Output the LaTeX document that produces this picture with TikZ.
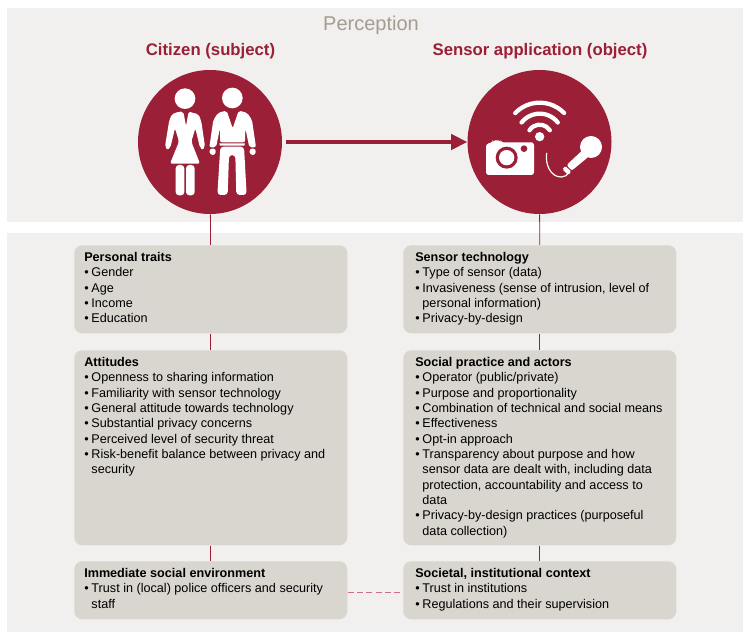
\documentclass[tikz,border=0pt]{standalone}
\usepackage{fontspec}
\setmainfont{Liberation Sans}
\usetikzlibrary{arrows.meta}
\definecolor{wine}{HTML}{9B1F36}
\definecolor{panelc}{HTML}{F2F0EE}
\definecolor{boxc}{HTML}{D9D5CF}
\definecolor{greyt}{HTML}{A39C90}
\definecolor{pinkl}{HTML}{CC6E85}
\newcommand{\bul}[1]{\par\prevdepth=2.5pt\noindent\makebox[5.4pt][l]{•}\parbox[t]{190pt}{\raggedright #1\rule[-2.5pt]{0pt}{2.5pt}}}
\newcommand{\hd}[1]{\noindent\textbf{#1}\rule[-2.5pt]{0pt}{2.5pt}}
\newcommand{\brk}{\newline}
\tikzset{
  panel/.style={fill=panelc,draw=none,minimum width=552pt,anchor=north west,inner sep=0pt},
  cardbox/.style={fill=boxc,draw=none,rounded corners=6pt,minimum width=204.75pt,anchor=north west,inner sep=0pt},
  cardtext/.style={anchor=north west,inner sep=0pt,text width=198pt,font=\fontsize{9.47}{11.5}\selectfont,align=none},
  disc/.style={circle,fill=wine,draw=none,minimum size=108pt,inner sep=0pt},
  vlink/.style={wine,line width=0.6pt},
  title/.style={font=\fontsize{12.55}{16}\selectfont\bfseries,text=wine,inner sep=0pt},
  icon/.style={fill=white,draw=none}
}
\begin{document}
\begin{tikzpicture}[x=0.75pt,y=-0.75pt]
\useasboundingbox (0,0) rectangle (750,641);
\node[panel,minimum height=160.5pt] (top) at (7,8) {};
\node[panel,minimum height=299.25pt] (low) at (7,233) {};
\node[font=\fontsize{15}{18}\selectfont,text=greyt,inner sep=0pt] (per) at (371,25) {Perception};
\node[title] (tc) at (210.5,51.5) {Citizen (subject)};
\node[title] (ts) at (540,51.5) {Sensor application (object)};
\node[disc] (cit) at (210,142) {};
\node[disc] (sen) at (539.5,142) {};
\node[cardbox,minimum height=66pt] (b1) at (74,245) {};
\node[cardbox,minimum height=146.25pt] (b2) at (74,350) {};
\node[cardbox,minimum height=43.5pt] (b3) at (74,561) {};
\node[cardbox,minimum height=66pt] (b4) at (403,245) {};
\node[cardbox,minimum height=146.25pt] (b5) at (403,350) {};
\node[cardbox,minimum height=43.5pt] (b6) at (403,561) {};
\draw[vlink] (cit) -- (b1);
\draw[vlink] (b1) -- (b2);
\draw[vlink] (b2) -- (b3);
\draw[vlink] (sen) -- (b4);
\draw[vlink] (b4) -- (b5);
\draw[vlink] (b5) -- (b6);
\draw[pinkl,line width=1pt,dash pattern=on 4.5pt off 2.5pt] ([yshift=-1.5pt]b3.east) -- ([yshift=-1.5pt]b6.west);
\draw[wine,line width=2.4pt,shorten <=3pt,-{Triangle[length=12pt,width=11.5pt]}] (cit.east) -- (sen.west);
\node[cardtext] (t1) at (84,252) {\hd{Personal traits}\bul{Gender}\bul{Age}\bul{Income}\bul{Education}};
\node[cardtext] (t2) at (84,357) {\hd{Attitudes}\bul{Openness to sharing information}\bul{Familiarity with sensor technology}\bul{General attitude towards technology}\bul{Substantial privacy concerns}\bul{Perceived level of security threat}\bul{Risk-benefit balance between privacy and\brk security}};
\node[cardtext] (t3) at (84,568) {\hd{Immediate social environment}\bul{Trust in (local) police officers and security\brk staff}};
\node[cardtext] (t4) at (415,252) {\hd{Sensor technology}\bul{Type of sensor (data)}\bul{Invasiveness (sense of intrusion, level of\brk personal information)}\bul{Privacy-by-design}};
\node[cardtext] (t5) at (415,357) {\hd{Social practice and actors}\bul{Operator (public/private)}\bul{Purpose and proportionality}\bul{Combination of technical and social means}\bul{Effectiveness}\bul{Opt-in approach}\bul{Transparency about purpose and how\brk sensor data are dealt with, including data\brk protection, accountability and access to\brk data}\bul{Privacy-by-design practices (purposeful\brk data collection)}};
\node[cardtext] (t6) at (415,568) {\hd{Societal, institutional context}\bul{Trust in institutions}\bul{Regulations and their supervision}};
% people icon
\begin{scope}[shift={(120,60)},x=0.25pt,y=-0.25pt]
\fill[icon] (195,116) circle (31);
\fill[icon] (337,114) circle (31);
% woman
\fill[icon,rounded corners=1.5pt] (176,155) -- (155,163) -- (147,185) -- (135,260) -- (142,270) -- (151,263) -- (165,205) -- (177,245) -- (150,311) -- (240,311) -- (214,245) -- (226,205) -- (240,263) -- (248,270) -- (255,260) -- (244,185) -- (236,163) -- (206,155) -- (198,198) -- (190,155) -- cycle;
\fill[icon,rounded corners=2.5pt] (167,315) -- (193,315) -- (193,406) -- (167,406) -- cycle;
\fill[icon,rounded corners=2.5pt] (198,315) -- (224,315) -- (224,406) -- (198,406) -- cycle;
% man
\fill[icon,rounded corners=1.5pt] (320,152) -- (295,158) -- (280,180) -- (268,262) -- (288,262) -- (300,205) -- (300,247) -- (375,247) -- (376,205) -- (388,262) -- (408,262) -- (396,180) -- (381,158) -- (356,152) -- (338,205) -- cycle;
\fill[icon,rounded corners=2pt] (268,266) -- (288,266) -- (286,285) -- (270,285) -- cycle;
\fill[icon,rounded corners=2pt] (388,266) -- (408,266) -- (406,285) -- (390,285) -- cycle;
\fill[icon] (298,250) -- (375,250) -- (373,257) -- (300,257) -- cycle;
\fill[icon,rounded corners=2.5pt] (301,260) -- (372,260) -- (380,405) -- (349,405) -- (346,285) -- (327,285) -- (323,405) -- (292,405) -- cycle;
\end{scope}
% sensor icons
\begin{scope}[shift={(450,60)},x=0.25pt,y=-0.25pt]
\foreach \rr/\aa in {36/32,69/38,102/44}{
  \draw[white,line width=3.2pt,line cap=round] ({269+\rr*cos(\aa)},{230-\rr*sin(\aa)}) arc[start angle=-\aa,end angle=-180+\aa,radius=\rr];
}
\fill[icon] (269,230) circle (14);
\fill[icon,rounded corners=2pt] (108,252) -- (128,247) -- (128,241) -- (152,241) -- (152,247) -- (252,247) -- (252,345) -- (108,345) -- cycle;
\fill[wine] (170,293) circle (33);
\fill[icon] (170,293) circle (23);
\fill[wine] (222,266) circle (10);
\fill[icon] (423,261) circle (33);
\fill[icon,rounded corners=1.5pt] (398,270) -- (350,315) -- (365,332) -- (416,290) -- cycle;
\fill[icon,rounded corners=1pt] (337,328) -- (346,318) -- (364,335) -- (355,345) -- cycle;
\draw[white,line width=0.9pt,line cap=round] (290,280) .. controls (285,310) and (300,352) .. (335,351) .. controls (345,351) and (350,345) .. (355,340);
\end{scope}
\end{tikzpicture}
\end{document}
